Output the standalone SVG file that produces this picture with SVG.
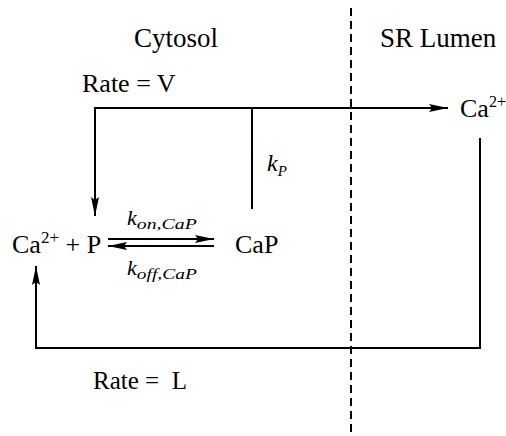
<svg xmlns="http://www.w3.org/2000/svg" width="506" height="436" viewBox="0 0 506 436" font-family="'Liberation Serif', 'DejaVu Serif', serif">
<style>
text{font-family:'Liberation Serif','DejaVu Serif',serif;fill:#000}
.ln{stroke:#000;stroke-width:2;fill:none}
</style>
<defs>
<marker id="ah" markerUnits="userSpaceOnUse" markerWidth="20" markerHeight="10" refX="19" refY="5" orient="auto">
<path d="M0,1 L19,5 L0,9 L3,5 Z" fill="#000"/>
</marker>
</defs>
<g id="connectors">
<line class="ln" x1="351" y1="8" x2="351" y2="436" stroke-dasharray="8 5"/>
<line class="ln" x1="95" y1="108" x2="448" y2="108" marker-end="url(#ah)"/>
<line class="ln" x1="95" y1="107" x2="95" y2="216" marker-end="url(#ah)"/>
<line class="ln" x1="252" y1="108" x2="252" y2="209"/>
<path class="ln" d="M480,138 V348 H36 V266" marker-end="url(#ah)"/>
<line class="ln" x1="108" y1="239" x2="214" y2="239" marker-end="url(#ah)"/>
<line class="ln" x1="214" y1="246" x2="108" y2="246" marker-end="url(#ah)"/>
</g>
<g id="region-cytosol"><text x="134" y="47" font-size="27">Cytosol</text></g>
<g id="region-lumen"><text x="380" y="47" font-size="27">SR Lumen</text></g>
<g id="rate-v"><text x="82" y="92" font-size="26">Rate = V</text></g>
<g id="ca-lumen"><text x="460" y="117" font-size="26">Ca<tspan font-size="16" dy="-10">2+</tspan></text></g>
<g id="ca-p"><text x="12" y="253" font-size="26">Ca<tspan font-size="17" dy="-10">2+</tspan><tspan dy="10"> + P</tspan></text></g>
<g id="cap"><text x="235" y="253" font-size="26">CaP</text></g>
<g id="kon"><text x="127" y="225" font-style="italic"><tspan font-size="22">k</tspan><tspan font-size="14" dy="4" textLength="60" lengthAdjust="spacingAndGlyphs">on,CaP</tspan></text></g>
<g id="koff"><text x="127" y="275" font-style="italic"><tspan font-size="22">k</tspan><tspan font-size="14" dy="4" textLength="60" lengthAdjust="spacingAndGlyphs">off,CaP</tspan></text></g>
<g id="kp"><text x="267" y="171" font-style="italic"><tspan font-size="24">k</tspan><tspan font-size="15" dy="5">P</tspan></text></g>
<g id="rate-l"><text x="93" y="389" font-size="25" xml:space="preserve">Rate =  L</text></g>
</svg>
